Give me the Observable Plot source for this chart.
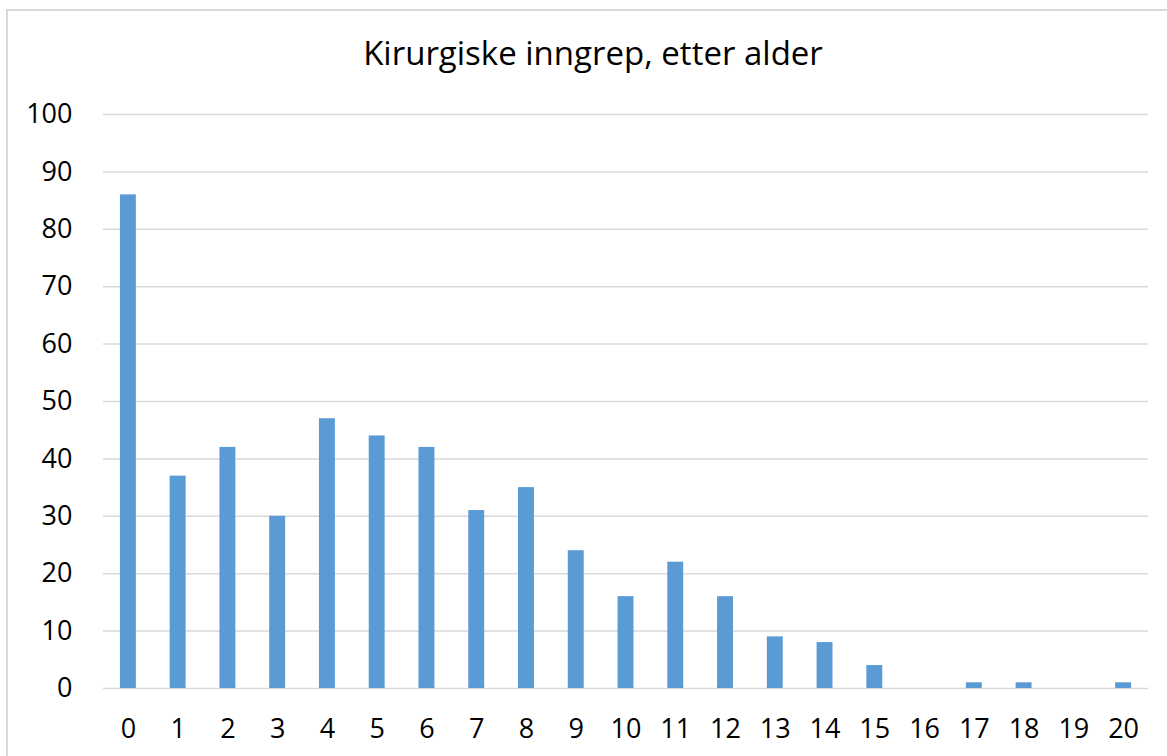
<!DOCTYPE html>
<html>
<head>
<meta charset="utf-8">
<script src="https://cdn.jsdelivr.net/npm/d3@7"></script>
<script src="https://cdn.jsdelivr.net/npm/@observablehq/plot@0.6"></script>
<style>
  html, body { margin: 0; padding: 0; background: #fff; overflow: hidden; width: 1167px; height: 756px; }
  #frame { position: absolute; left: 6px; top: 9px; width: 1300px; height: 900px; border-left: 2px solid #d9d9d9; border-top: 2px solid #d9d9d9; box-sizing: border-box; }
  #title { position: absolute; left: 0; top: 0; width: 1186px; height: 90px; text-align: center; font-family: "Open Sans", sans-serif; font-size: 33px; line-height: 1; color: #000; }
  #title span { position: absolute; left: 0; right: 0; top: 36px; }
  #chart { position: absolute; left: 0; top: 90px; }
</style>
</head>
<body>
<div id="frame"></div>
<div id="title"><span>Kirurgiske inngrep, etter alder</span></div>
<div id="chart"></div>
<script>
const titleText = "Kirurgiske inngrep, etter alder";
const ages = ["0","1","2","3","4","5","6","7","8","9","10","11","12","13","14","15","16","17","18","19","20"];
const counts = [86, 37, 42, 30, 47, 44, 42, 31, 35, 24, 16, 22, 16, 9, 8, 4, 0, 1, 1, 0, 1];
const yTicks = [0, 10, 20, 30, 40, 50, 60, 70, 80, 90, 100];

const data = ages.map((a, i) => ({age: a, value: counts[i]}));

const chart = Plot.plot({
  width: 1167,
  height: 664,
  marginLeft: 103,
  marginRight: 19,
  marginTop: 24,
  marginBottom: 66,
  style: {fontFamily: "'Open Sans', sans-serif", fontSize: "27px", color: "#000", background: "transparent"},
  x: {domain: ages, paddingInner: 0.68, paddingOuter: 0.34, round: false, label: null, tickSize: 0, tickPadding: 30},
  y: {domain: [0, 100], ticks: yTicks, label: null, tickSize: 0, tickPadding: 31},
  marks: [
    Plot.ruleY(yTicks, {stroke: "#d9d9d9", strokeWidth: 1.5}),
    Plot.barY(data, {x: "age", y: "value", fill: "#5b9bd5"}),
    Plot.axisX({tickSize: 0, tickPadding: 30, fontSize: 27, label: null}),
    Plot.axisY({ticks: yTicks, tickSize: 0, tickPadding: 31, fontSize: 27, label: null})
  ]
});
document.getElementById("chart").appendChild(chart);
document.getElementById("title").firstChild.textContent = titleText;
</script>
</body>
</html>
